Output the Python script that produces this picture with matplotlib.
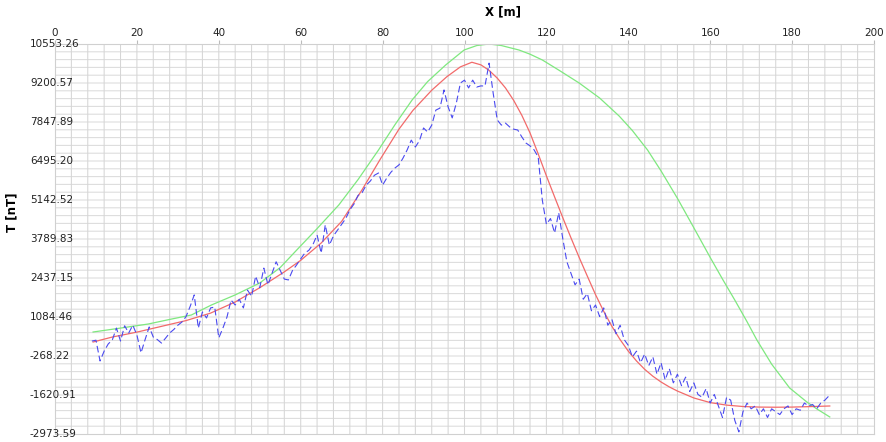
import matplotlib
matplotlib.use("Agg")
import matplotlib.pyplot as plt
import matplotlib.transforms as mtransforms

# ---------------- data ----------------
obs_x = list(range(9, 190))
obs_t = [250, 280, -440, -100, 150, 290, 700, 250, 780, 530,
         800, 460, -160, 300, 740, 390, 300, 180, 350, 530,
         650, 800, 910, 1100, 1450, 1850, 700, 1260, 1050, 1400,
         1430, 360, 700, 1085, 1670, 1500, 1700, 1400, 2020, 1800,
         2500, 2100, 2780, 2200, 2600, 3000, 2700, 2400, 2370, 2700,
         2890, 3100, 3300, 3400, 3600, 3930, 3300, 4280, 3580, 3900,
         4100, 4300, 4500, 4800, 5000, 5300, 5400, 5660, 5800, 6000,
         6080, 5660, 5900, 6100, 6250, 6360, 6600, 6880, 7220, 6980,
         7200, 7640, 7500, 7740, 8260, 8330, 8960, 8370, 7990, 8500,
         9200, 9300, 9030, 9300, 9060, 9100, 9096, 9890, 8850, 7920,
         7740, 7810, 7680, 7600, 7570, 7330, 7120, 7020, 6880, 6630,
         5140, 4300, 4500, 4000, 4700, 3800, 3000, 2600, 2200, 2400,
         1700, 1900, 1300, 1500, 1100, 1400, 800, 1000, 500, 800,
         300, 100, -300, -100, -500, -200, -600, -300, -900, -500,
         -1100, -700, -1200, -900, -1300, -1000, -1500, -1200, -1600, -1700,
         -1400, -1900, -1600, -2000, -2400, -1700, -1800, -2500, -2900, -2200,
         -1900, -2100, -2000, -2300, -2100, -2400, -2100, -2200, -2300, -2100,
         -2000, -2300, -2100, -2150, -1900, -2000, -1950, -2100, -1900, -1800,
         -1650]

red_x = [9.3, 14, 20, 26, 32, 38, 44, 50, 56, 60, 65, 70, 75, 79.4, 84, 87.4,
         92, 95.7, 99, 101.8, 104, 106, 108, 110, 112, 114, 116, 118, 120, 122,
         124, 126, 128, 130, 132, 134, 136, 138, 140, 142, 144, 146, 148, 150,
         152, 156, 160, 164, 168, 172, 176, 180, 184, 189.2]
red_t = [217, 390, 560, 760, 960, 1220, 1605, 2100, 2650, 3050, 3650, 4400,
         5500, 6550, 7600, 8250, 8950, 9420, 9760, 9920, 9830, 9640, 9370,
         9030, 8600, 8080, 7470, 6740, 5980, 5250, 4530, 3830, 3150, 2500,
         1860, 1280, 760, 300, -100, -440, -730, -970, -1170, -1340, -1484,
         -1724, -1884, -1972, -2020, -2040, -2045, -2040, -2025, -2002]

grn_x = [9.3, 16, 22.8, 28, 33.3, 38.2, 44, 50, 55, 59.5, 64, 69.3, 74, 79,
         83, 87.2, 91, 95.4, 99.9, 103, 106, 109, 113.3, 116, 119, 123, 128,
         133, 137.8, 141, 144.7, 148, 152, 156, 160, 163, 166, 169, 171.4,
         175, 179.4, 183.6, 186, 189.2]
grn_t = [564, 700, 842, 1000, 1154, 1501, 1850, 2264, 2800, 3478, 4150, 4969,
         5850, 6877, 7750, 8611, 9250, 9825, 10345, 10500, 10553, 10500,
         10345, 10200, 10000, 9650, 9200, 8680, 8050, 7550, 6877, 6150, 5200,
         4180, 3150, 2400, 1674, 920, 287, -550, -1378, -1863, -2100, -2383]

x_ticks = [0, 20, 40, 60, 80, 100, 120, 140, 160, 180, 200]
y_tick_vals = [10553.26, 9200.57, 7847.89, 6495.20, 5142.52, 3789.83,
               2437.15, 1084.46, -268.22, -1620.91, -2973.59]
y_tick_labels = ["10553.26", "9200.57", "7847.89", "6495.20", "5142.52",
                 "3789.83", "2437.15", "1084.46", "-268.22", "-1620.91",
                 "-2973.59"]

# ---------------- figure ----------------
W, H = 887, 442
fig = plt.figure(figsize=(W / 100, H / 100), dpi=100)
ax = fig.add_axes([55 / W, 8 / H, (874 - 55) / W, (434 - 44) / H])

ax.set_xlim(0, 200)
ax.set_ylim(-2973.59, 10553.26)

# grid (uniform lines, un-snapped so antialiasing varies like the original)
ystep = (10553.26 + 2973.59) / 10
for i in range(1, 50):
    v = -2973.59 + i * ystep / 5
    ax.axhline(v, color="#dcdcdc", lw=0.75, zorder=0, snap=False)
for xv in range(4, 200, 4):
    ax.axvline(xv, color="#d6d6d6", lw=0.75, zorder=0, snap=False)

ax.plot(grn_x, grn_t, color="#7fe87f", lw=0.9, zorder=2)
ax.plot(red_x, red_t, color="#f26a6a", lw=0.9, zorder=3)
ax.plot(obs_x, obs_t, color="#4a4af0", lw=0.8, ls=(0, (6, 3)), zorder=4)

for s in ax.spines.values():
    s.set_color("#d0d0d0")
    s.set_linewidth(0.8)

ax.xaxis.tick_top()
ax.set_xticks(x_ticks)
ax.set_xticklabels([str(v) for v in x_ticks])
ax.tick_params(axis="x", length=3, color="#bbbbbb", labelsize=7.5, pad=1,
               labelcolor="#222222")
ax.set_yticks([])

tr = mtransforms.blended_transform_factory(fig.transFigure, ax.transData)
for v, lab in zip(y_tick_vals, y_tick_labels):
    fig.text(30 / W, v, lab, transform=tr, ha="left", va="center",
             fontsize=7.5, color="#222222")

fig.text(503 / W, 1 - 12 / H, "X [m]", ha="center", va="center",
         fontsize=8.5, fontweight="bold")
fig.text(12 / W, 1 - 212 / H, "T [nT]", ha="center", va="center",
         fontsize=8.5, fontweight="bold", rotation=90)

fig.savefig("out.png", dpi=100)
